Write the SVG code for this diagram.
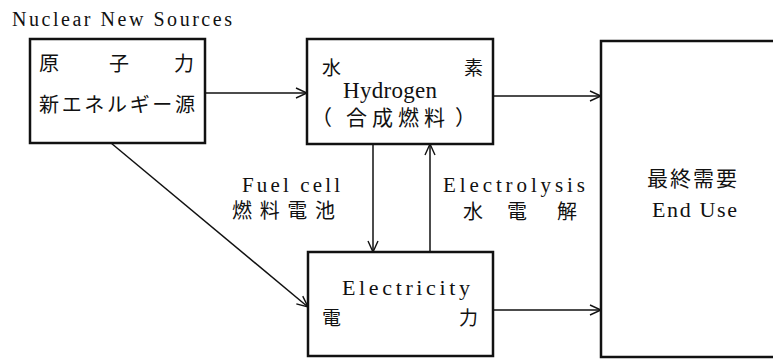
<svg xmlns="http://www.w3.org/2000/svg" width="773" height="359" viewBox="0 0 773 359">
<style>
.box{fill:#fff;stroke:#111;stroke-width:2.5}
.ln{fill:none;stroke:#111;stroke-width:1.5}
.en{font-family:"Liberation Serif","Times New Roman","DejaVu Serif",serif;fill:#111}
.jp{font-family:"Noto Sans CJK JP","Noto Sans CJK SC",sans-serif;fill:#111}
</style>
<defs>
<marker id="arr" viewBox="0 0 12 12" refX="12" refY="6" markerWidth="12" markerHeight="12" markerUnits="userSpaceOnUse" orient="auto">
<path d="M1,1 L12,6 L1,11" fill="none" stroke="#111" stroke-width="1.4"/>
</marker>
</defs>
<rect width="773" height="359" fill="#fff"/>
<text class="en" x="12" y="26" font-size="20" textLength="220" lengthAdjust="spacing">Nuclear New Sources</text>
<g id="connectors">
<line class="ln" x1="205" y1="93" x2="307" y2="93" marker-end="url(#arr)"/>
<line class="ln" x1="493" y1="96" x2="601" y2="96" marker-end="url(#arr)"/>
<line class="ln" x1="493" y1="310" x2="601" y2="310" marker-end="url(#arr)"/>
<line class="ln" x1="373" y1="144" x2="373" y2="252" marker-end="url(#arr)"/>
<line class="ln" x1="430" y1="252" x2="430" y2="144" marker-end="url(#arr)"/>
<line class="ln" x1="111" y1="143" x2="308" y2="307" marker-end="url(#arr)"/>
<text class="en" x="242" y="192" font-size="21" textLength="98" lengthAdjust="spacing">Fuel cell</text>
<text class="jp" x="232" y="218" font-size="20" textLength="103" lengthAdjust="spacing">燃料電池</text>
<text class="en" x="443" y="192" font-size="21" textLength="142" lengthAdjust="spacing">Electrolysis</text>
<text class="jp" y="219" font-size="20"><tspan x="463">水</tspan><tspan x="507">電</tspan><tspan x="557">解</tspan></text>
</g>
<g id="nuclear">
<rect class="box" x="30" y="39" width="175" height="104"/>
<text class="jp" y="71" font-size="20"><tspan x="39">原</tspan><tspan x="109">子</tspan><tspan x="174">力</tspan></text>
<text class="jp" x="39" y="112" font-size="20" textLength="156" lengthAdjust="spacing">新エネルギー源</text>
</g>
<g id="hydrogen">
<rect class="box" x="307" y="39" width="186" height="105"/>
<text class="jp" y="75" font-size="19"><tspan x="322">水</tspan><tspan x="464">素</tspan></text>
<text class="en" x="343" y="98" font-size="23" textLength="94" lengthAdjust="spacing">Hydrogen</text>
<text class="jp" y="125" font-size="21"><tspan x="311">（</tspan><tspan x="346" textLength="99" lengthAdjust="spacing">合成燃料</tspan><tspan x="455">）</tspan></text>
</g>
<g id="electricity">
<rect class="box" x="308" y="252" width="185" height="104"/>
<text class="en" x="342" y="295" font-size="22" textLength="128" lengthAdjust="spacing">Electricity</text>
<text class="jp" y="325" font-size="19"><tspan x="322">電</tspan><tspan x="459">力</tspan></text>
</g>
<g id="enduse">
<rect class="box" x="601" y="41" width="190" height="316"/>
<text class="jp" x="647" y="186" font-size="21" textLength="90" lengthAdjust="spacing">最終需要</text>
<text class="en" x="652" y="217" font-size="22" textLength="85" lengthAdjust="spacing">End Use</text>
</g>
</svg>
